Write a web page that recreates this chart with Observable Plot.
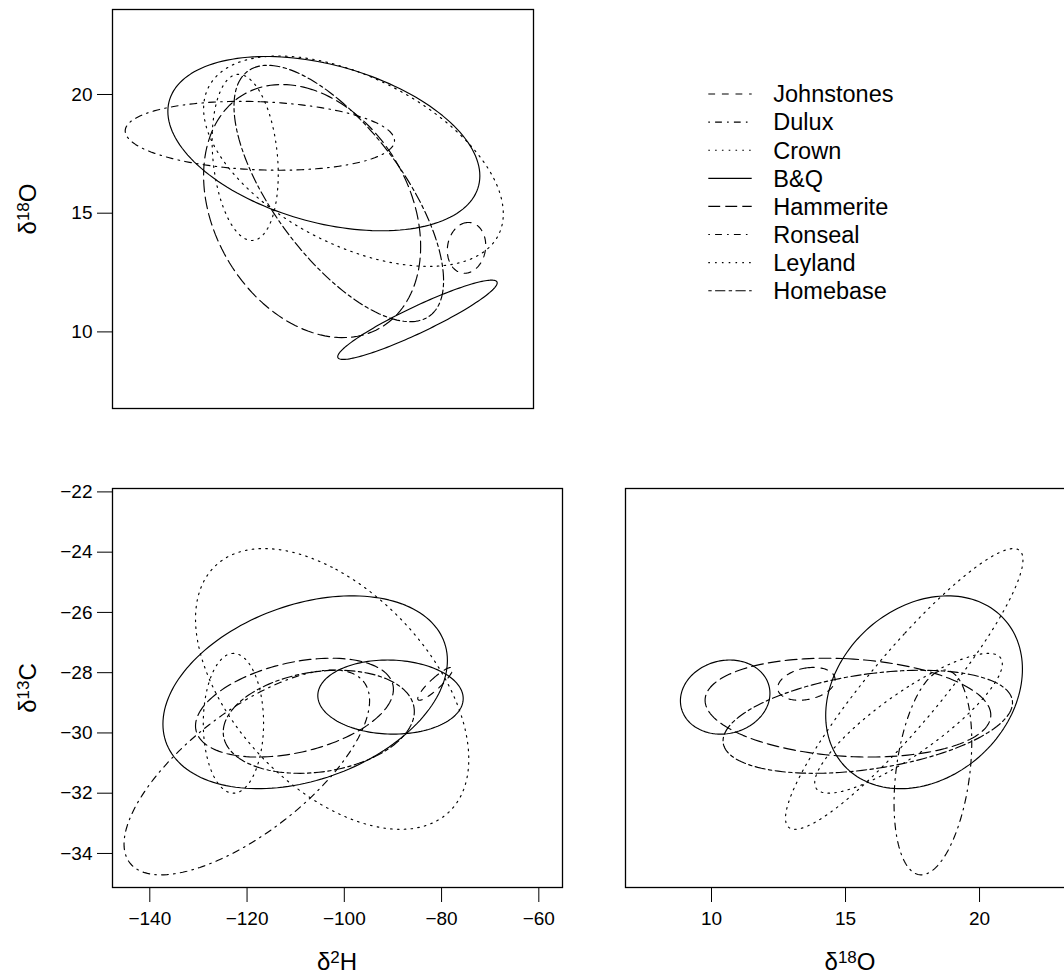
<!DOCTYPE html>
<html><head><meta charset="utf-8">
<script src="https://cdn.jsdelivr.net/npm/d3@7"></script>
<script src="https://cdn.jsdelivr.net/npm/@observablehq/plot@0.6"></script>
<style>
html,body{margin:0;padding:0;background:#fff;overflow:hidden;}
#fig{position:relative;width:1064px;height:978px;overflow:hidden;background:#fff;font-family:"Liberation Sans",Arial,Helvetica,sans-serif;}
.panel{position:absolute;}
.atitle{position:absolute;font-size:24px;line-height:24px;white-space:nowrap;color:#000;}
.atitle sup{font-size:17px;vertical-align:0.42em;line-height:0;}
</style></head><body><div id="fig"></div>
<script>
// ---- data ----
// one ellipse per group: centre, half-extent in each isotope and correlations
const groups   = ["Johnstones", "Dulux", "Crown", "B&Q", "Hammerite", "Ronseal", "Leyland", "Homebase"];
const meanH    = [-81.3, -120.05, -122.8, -108.05, -110.25, -90.5, -102.5, -105.25];
const meanO    = [13.54, 18.26, 17.35, 17.93, 15.09, 10.51, 17.19, 15.83];
const meanC    = [-28.37, -31.31, -29.68, -28.65, -29.16, -28.81, -28.54, -29.63];
const spreadH  = [3.6, 25.25, 6.2, 29.25, 20.35, 14.95, 28.1, 19.65];
const spreadO  = [1.07, 1.45, 3.5, 3.67, 5.33, 1.67, 4.43, 5.4];
const spreadC  = [0.545, 3.4, 2.32, 3.2, 1.64, 1.23, 4.66, 1.71];
const corrHO   = [0.1, -0.14, -0.2, -0.37, -0.28, 0.93, -0.5, -0.68];
const corrHC   = [0.9, 0.7, 0.0, 0.33, 0.37, -0.04, -0.5, 0.2];
const corrOC   = [0.25, 0.3, 0.85, 0.24, -0.15, 0.1, 0.92, 0.37];
const ellipseStyle = ["dashed", "dotdash", "dotted", "solid", "longdash", "solid", "dotted", "twodash"];

// legend as printed
const legendLabels = ["Johnstones", "Dulux", "Crown", "B&Q", "Hammerite", "Ronseal", "Leyland", "Homebase"];
const legendStyles = ["dashed", "dotdash", "dotted", "solid", "longdash", "dotdash", "dotted", "twodash"];

// axis ticks
const ticksH = [-140, -120, -100, -80, -60];
const ticksO = [10, 15, 20];
const ticksC = [-34, -32, -30, -28, -26, -24, -22];

const dash = {solid: null, dashed: "6.8,6.8", dotted: "1.6,5.2", dotdash: "1.6,5.2,6.8,5.2", longdash: "11.9,5.1", twodash: "3.4,3.4,10.2,3.4"};

const vars = {
  H: {mean: meanH, spread: spreadH},
  O: {mean: meanO, spread: spreadO},
  C: {mean: meanC, spread: spreadC}
};
const corr = {HO: corrHO, HC: corrHC, OC: corrOC};

function ellipse(i, a, b) {
  const mx = vars[a].mean[i], my = vars[b].mean[i];
  const sx = vars[a].spread[i], sy = vars[b].spread[i];
  const r = corr[a + b][i];
  const q = Math.sqrt(1 - r * r);
  const pts = [];
  const n = 160;
  for (let k = 0; k <= n; k++) {
    const t = 2 * Math.PI * k / n + Math.PI * 0.5;
    pts.push({group: groups[i], x: mx + sx * Math.cos(t), y: my + sy * (r * Math.cos(t) + q * Math.sin(t))});
  }
  return pts;
}

const fig = document.getElementById("fig");
const fontStyle = {fontFamily: "'Liberation Sans', Arial, Helvetica, sans-serif", fontSize: "19px", background: "transparent", color: "black", overflow: "visible"};

const panels = [
  {a: "H", b: "O", left: 0, top: 0, fw: 421, mT: 9, mB: 15, mL: 112, mR: 10, xd: [-147.68, -68.74], yd: [6.773, 23.58], xt: null, yt: ticksO},
  {a: "H", b: "C", left: 0, top: 478, fw: 450, mT: 10, mB: 60, mL: 112, mR: 10, xd: [-147.67, -55.13], yd: [-35.13, -21.887], xt: ticksH, yt: ticksC},
  {a: "O", b: "C", left: 615, top: 478, fw: 450, mT: 10, mB: 60, mL: 10, mR: 10, xd: [6.791, 23.58], yd: [-35.13, -21.887], xt: ticksO, yt: null}
];

for (const p of panels) {
  const marks = [];
  groups.forEach((g, i) => {
    const opts = {x: "x", y: "y", stroke: "black", strokeWidth: 1.15, clip: true};
    if (dash[ellipseStyle[i]]) opts.strokeDasharray = dash[ellipseStyle[i]];
    marks.push(Plot.line(ellipse(i, p.a, p.b), opts));
  });
  marks.push(Plot.frame({stroke: "black", strokeWidth: 1.3}));
  if (p.yt) marks.push(Plot.axisY(p.yt, {tickSize: 15, tickPadding: 5, label: null, fontSize: 19, strokeWidth: 1}));
  if (p.xt) marks.push(Plot.axisX(p.xt, {tickSize: 15, tickPadding: 9, label: null, fontSize: 19, strokeWidth: 1}));
  const w = p.mL + p.fw + p.mR;
  const h = p.mT + 399 + p.mB;
  const svg = Plot.plot({
    width: w, height: h,
    marginLeft: p.mL, marginRight: p.mR, marginTop: p.mT, marginBottom: p.mB,
    x: {domain: p.xd, axis: p.xt ? undefined : null},
    y: {domain: p.yd, axis: p.yt ? undefined : null},
    style: fontStyle,
    marks
  });
  svg.classList.add("panel");
  svg.style.left = p.left + "px";
  svg.style.top = p.top + "px";
  svg.style.position = "absolute";
  fig.appendChild(svg);
}

// legend
const lg = d3.create("svg").attr("width", 300).attr("height", 240)
  .style("position", "absolute").style("left", "700px").style("top", "80px");
legendLabels.forEach((lab, i) => {
  const y = 14 + i * 28.1;
  const ln = lg.append("line").attr("x1", 8.3).attr("x2", 51.7).attr("y1", y).attr("y2", y)
    .attr("stroke", "black").attr("stroke-width", 1.15);
  if (dash[legendStyles[i]]) ln.attr("stroke-dasharray", dash[legendStyles[i]]);
  lg.append("text").attr("x", 73.3).attr("y", y + 8.3).text(lab)
    .attr("font-family", "'Liberation Sans', Arial, Helvetica, sans-serif").attr("font-size", 23.5).attr("fill", "black");
});
fig.appendChild(lg.node());

// axis titles
function title(html, cx, cy, rotate) {
  const d = document.createElement("div");
  d.className = "atitle";
  d.innerHTML = html;
  fig.appendChild(d);
  const r = d.getBoundingClientRect();
  d.style.left = (cx - r.width / 2) + "px";
  d.style.top = (cy - r.height / 2) + "px";
  if (rotate) d.style.transform = "rotate(-90deg)";
}
title("&delta;<sup>2</sup>H", 337, 962, false);
title("&delta;<sup>18</sup>O", 850, 962, false);
title("&delta;<sup>18</sup>O", 28, 209, true);
title("&delta;<sup>13</sup>C", 28, 688, true);
</script></body></html>
